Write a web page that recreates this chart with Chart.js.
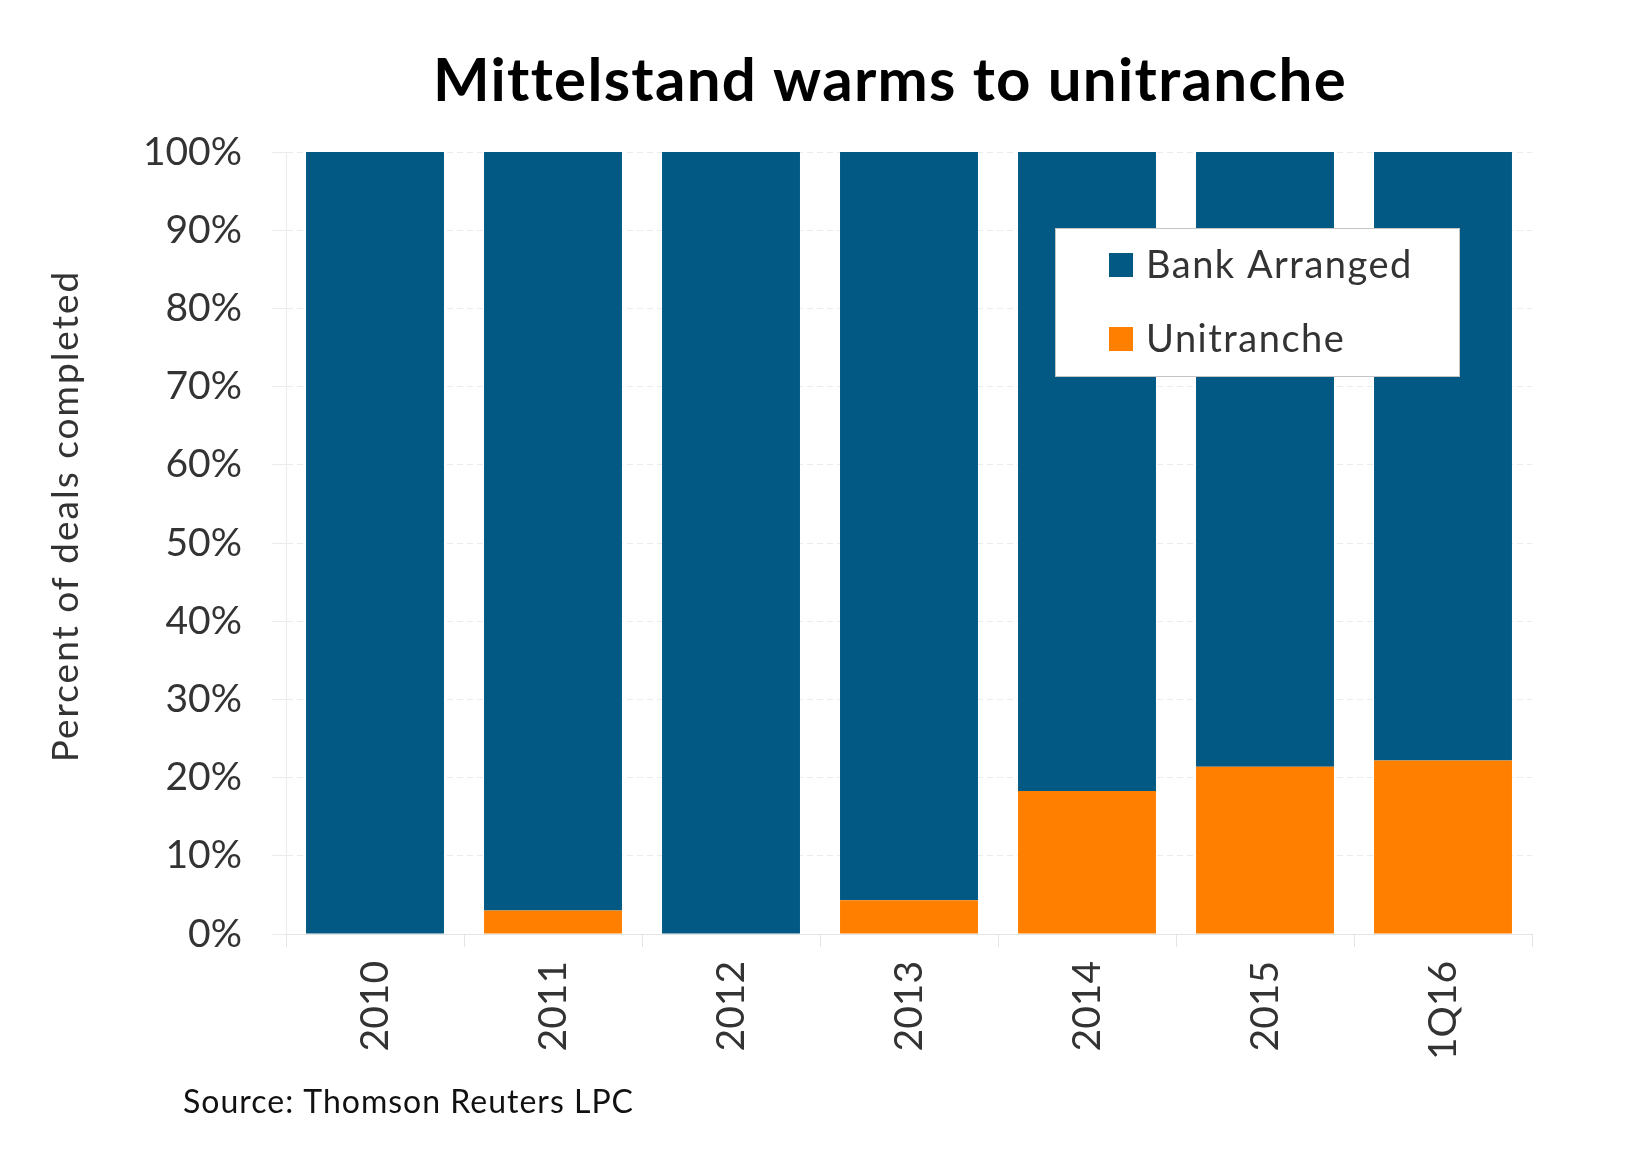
<!DOCTYPE html>
<html lang="en">
<head>
<meta charset="UTF-8">
<title>Mittelstand warms to unitranche</title>
<script src="https://cdn.jsdelivr.net/npm/chart.js@4.4.1/dist/chart.umd.min.js"></script>
<style>
  html, body { margin: 0; padding: 0; background: #fff; }
  #wrap { width: 1636px; height: 1166px; position: relative; }
</style>
</head>
<body>
<div id="wrap"><canvas id="chart"></canvas></div>
<script>
// data (percent of deals)
const years = ['2010', '2011', '2012', '2013', '2014', '2015', '1Q16'];
const unitranche = [0, 3.0, 0, 4.3, 18.3, 21.4, 22.2];
const bankArranged = [100, 97.0, 100, 95.7, 81.7, 78.6, 77.8];
const yTicks = [0, 10, 20, 30, 40, 50, 60, 70, 80, 90, 100];

const BLUE = '#025a84';
const ORANGE = '#ff8000';
const FONT = 'Lato, "Open Sans", sans-serif';

// title, axis title, source line and the boxed legend
const decor = {
  id: 'decor',
  afterDraw(chart) {
    const ctx = chart.ctx;
    ctx.save();
    ctx.fillStyle = '#000';
    ctx.font = 'bold 60px ' + FONT;
    ctx.letterSpacing = '1.3px';
    ctx.textAlign = 'center';
    ctx.textBaseline = 'alphabetic';
    ctx.fillText('Mittelstand warms to unitranche', 890, 101);

    ctx.fillStyle = '#333';
    ctx.font = '37px ' + FONT;
    ctx.letterSpacing = '2px';
    ctx.translate(78, 516);
    ctx.rotate(-Math.PI / 2);
    ctx.fillText('Percent of deals completed', 0, 0);
    ctx.setTransform(1, 0, 0, 1, 0, 0);

    ctx.fillStyle = '#111';
    ctx.font = '32px ' + FONT;
    ctx.letterSpacing = '1px';
    ctx.textAlign = 'left';
    ctx.fillText('Source: Thomson Reuters LPC', 183, 1113);

    // legend box
    ctx.fillStyle = '#fff';
    ctx.fillRect(1055, 228, 404, 148);
    ctx.strokeStyle = '#c4c4c4';
    ctx.lineWidth = 1;
    ctx.strokeRect(1055.5, 228.5, 404, 148);
    const items = chart.data.datasets.slice().reverse();
    ctx.font = '38px ' + FONT;
    ctx.letterSpacing = '1.5px';
    ctx.textBaseline = 'middle';
    items.forEach((ds, i) => {
      const cy = 265 + i * 74;
      ctx.fillStyle = ds.backgroundColor;
      ctx.fillRect(1109, cy - 12, 24, 24);
      ctx.fillStyle = '#333';
      ctx.fillText(ds.label, 1146, cy + 1);
    });
    ctx.restore();
  }
};

new Chart(document.getElementById('chart'), {
  type: 'bar',
  data: {
    labels: years,
    datasets: [
      { label: 'Unitranche', data: unitranche, backgroundColor: ORANGE },
      { label: 'Bank Arranged', data: bankArranged, backgroundColor: BLUE }
    ]
  },
  options: {
    responsive: true,
    maintainAspectRatio: false,
    animation: false,
    devicePixelRatio: 1,
    layout: { padding: { top: 152, right: 104, left: 0, bottom: 0 } },
    datasets: { bar: { categoryPercentage: 1, barPercentage: 0.775 } },
    plugins: {
      legend: { display: false },
      title: { display: false },
      tooltip: { enabled: false }
    },
    scales: {
      x: {
        stacked: true,
        grid: { drawOnChartArea: false, drawTicks: true, tickLength: 13, color: '#e4e4e4' },
        border: { display: true, color: '#e4e4e4' },
        ticks: {
          minRotation: 90, maxRotation: 90, padding: 14,
          color: '#333', font: { family: FONT, size: 39 }
        },
        afterFit(scale) { scale.height = 232; }
      },
      y: {
        stacked: true,
        min: 0,
        max: 100,
        afterBuildTicks(scale) { scale.ticks = yTicks.map(v => ({ value: v })); },
        grid: { color: '#ebebeb', tickLength: 14 },
        border: { display: true, color: '#ebebeb', dash: [6, 4] },
        ticks: {
          padding: 30,
          color: '#333',
          font: { family: FONT, size: 39 },
          callback: v => v + '%'
        },
        afterFit(scale) { scale.width = 286; }
      }
    }
  },
  plugins: [decor]
});
</script>
</body>
</html>
